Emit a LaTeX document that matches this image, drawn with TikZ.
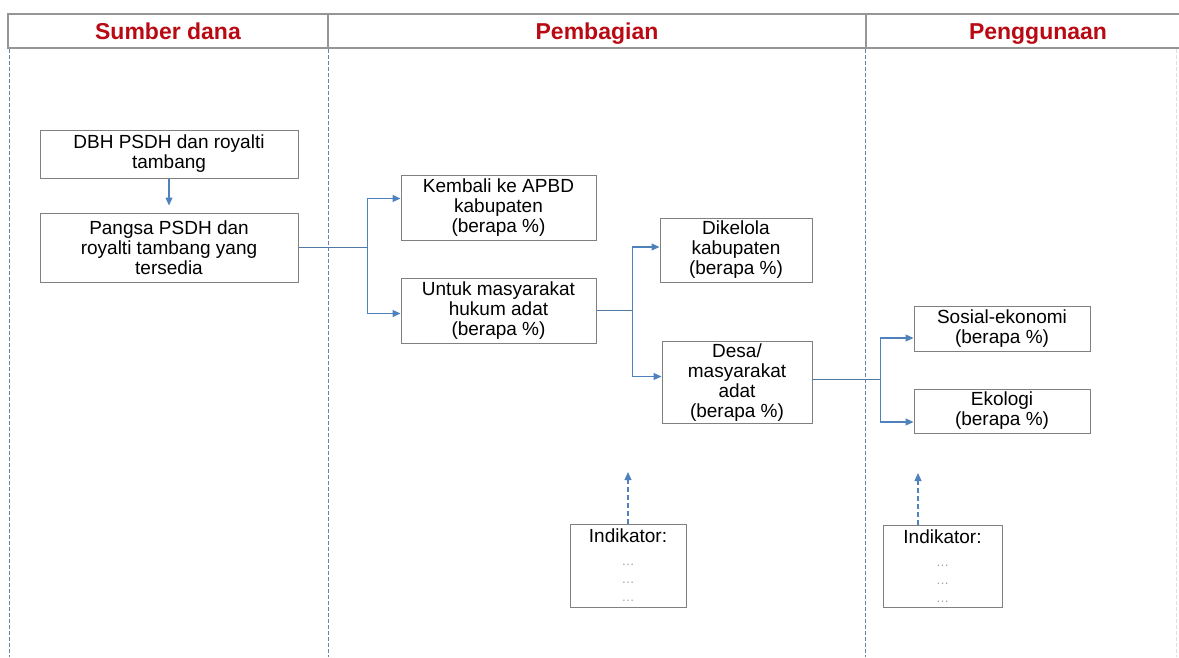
\documentclass[tikz,border=0pt]{standalone}
\usepackage{fontspec}
\setmainfont{Liberation Sans}
\usepackage{tikz}
\usetikzlibrary{arrows.meta, positioning, calc}
\usepackage{xcolor}
\definecolor{headred}{RGB}{185,10,20}
\definecolor{flowblue}{RGB}{79,129,189}
\definecolor{linkblue}{RGB}{80,120,165}
\definecolor{boxgray}{RGB}{128,128,128}
\definecolor{rulegray}{RGB}{150,150,150}
\definecolor{divblue}{RGB}{105,130,165}
\definecolor{dotgray}{RGB}{160,160,160}
\newcommand{\dotrow}{{\fontsize{13}{14}\selectfont\color{dotgray}\dots}}

\begin{document}
\begin{tikzpicture}[x=1pt, y=-1pt,
  box/.style={draw=boxgray, line width=1pt, rectangle, align=center, inner sep=2pt,
    font=\fontsize{19}{20}\selectfont},
  head/.style={font=\fontsize{23}{26}\selectfont\bfseries, text=headred, anchor=base},
  link/.style={draw=linkblue, line width=1.1pt},
  flow/.style={link, -{Triangle[length=8pt, width=7pt]}, color=flowblue},
  hint/.style={flow, dashed, dash pattern=on 5pt off 3pt},
  divider/.style={draw=divblue, line width=1pt, dash pattern=on 3.5pt off 2.5pt}]
  \useasboundingbox (0,0) rectangle (1179,657);
  % Header row
  \draw[rulegray, line width=1.2pt] (1179,14) -- (8,14) -- (8,48) -- (1179,48);
  \draw[rulegray, line width=1.2pt] (328,14) -- (328,48);
  \draw[rulegray, line width=1.2pt] (866,14) -- (866,48);
  \node[head] (hsumber) at (168,39) {Sumber dana};
  \node[head] (hbagi) at (597,39) {Pembagian};
  \node[head] (hguna) at (1038,39) {Penggunaan};
  % Column dividers
  \draw[divider] (9,49) -- (9,657);
  \draw[divider] (328,49) -- (328,657);
  \draw[divider] (865,49) -- (865,657);
  \draw[divider, draw=divblue!25] (1176,49) -- (1176,657);

  % Sumber dana
  \node[box, minimum width=258pt, minimum height=48pt] (dbh) at (169,154)
    {DBH PSDH dan royalti\\tambang};
  \node[box, minimum width=258pt, minimum height=69pt] (pangsa) at (169,247.5)
    {Pangsa PSDH dan\\royalti tambang yang\\tersedia};
  \draw[flow, shorten >=7pt] (dbh.south) -- (pangsa.north);

  % Pembagian
  \node[box, minimum width=195pt, minimum height=65pt] (kembali) at (498.5,207.5)
    {Kembali ke APBD\\kabupaten\\(berapa \%)};
  \node[box, minimum width=195pt, minimum height=65pt] (untuk) at (498.5,310.5)
    {Untuk masyarakat\\hukum adat\\(berapa \%)};
  \node[box, minimum width=152pt, minimum height=64pt] (dikelola) at (736,250)
    {Dikelola\\kabupaten\\(berapa \%)};
  \node[box, minimum width=150pt, minimum height=81pt] (desa) at (737,382.5)
    {Desa/\\masyarakat\\adat\\(berapa \%)};
  \draw[link] (pangsa.east) -- ++(69,0) coordinate (split1);
  \draw[flow] (split1) |- ([yshift=9pt]kembali.west);
  \draw[flow] (split1) |- ([yshift=-3pt]untuk.west);
  \draw[link] (untuk.east) -- ++(36,0) coordinate (split2);
  \draw[flow] (split2) |- ([yshift=3pt]dikelola.west);
  \draw[flow] (split2) |- ([yshift=6pt]desa.west);

  % Penggunaan
  \node[box, minimum width=176pt, minimum height=45pt] (sosial) at (1002,328.5)
    {Sosial-ekonomi\\(berapa \%)};
  \node[box, minimum width=176pt, minimum height=44pt] (ekologi) at (1002,411)
    {Ekologi\\(berapa \%)};
  \draw[link] ([yshift=3pt]desa.east) -- ++(68,0) coordinate (split3);
  \draw[flow] (split3) |- ([yshift=-9.5pt]sosial.west);
  \draw[flow] (split3) |- ([yshift=-11pt]ekologi.west);

  % Indikator
  \node[box, minimum width=116pt, minimum height=83pt] (ind1) at (628,565.5)
    {Indikator:\\[3pt]\dotrow\\[-2pt]\dotrow\\[-2pt]\dotrow};
  \node[box, minimum width=119pt, minimum height=82pt] (ind2) at (942.5,566)
    {Indikator:\\[3pt]\dotrow\\[-2pt]\dotrow\\[-2pt]\dotrow};
  \coordinate (up1) at (628,472);
  \coordinate (up2) at (918,473);
  \draw[hint] (ind1.north) -- (up1);
  \draw[hint] (ind2.north -| up2) -- (up2);
\end{tikzpicture}
\end{document}
